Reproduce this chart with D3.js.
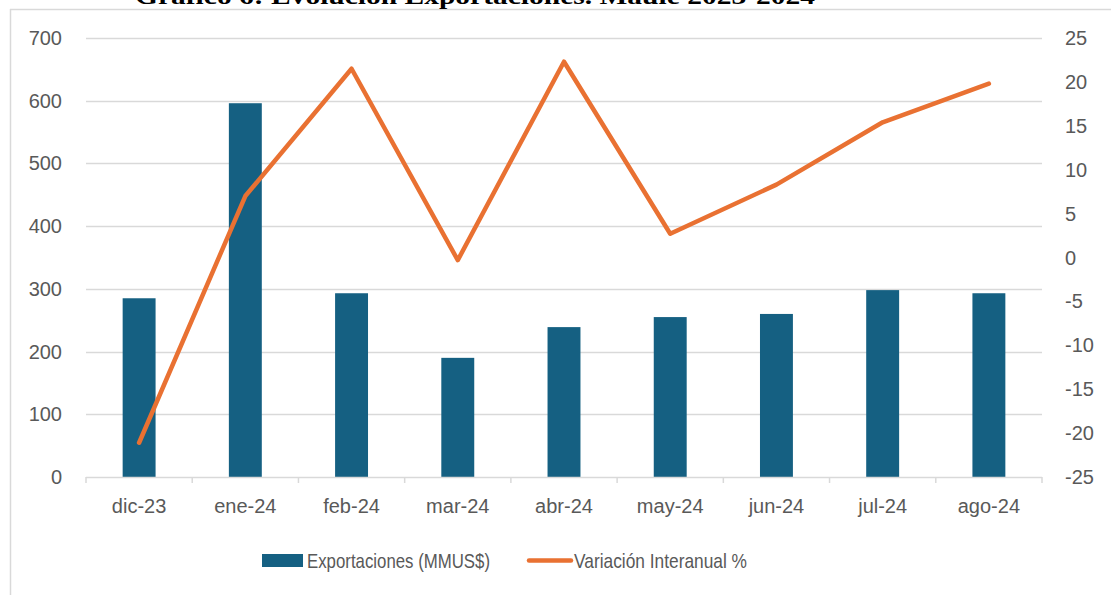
<!DOCTYPE html>
<html>
<head>
<meta charset="utf-8">
<script src="https://cdn.jsdelivr.net/npm/d3@7"></script>
<style>
  body { margin: 0; background: #fff; }
  svg { display: block; }
</style>
</head>
<body>
<div id="chart"></div>
<script>
// data
const months = ["dic-23", "ene-24", "feb-24", "mar-24", "abr-24", "may-24", "jun-24", "jul-24", "ago-24"];
const exports = [285, 596, 293, 190, 239, 255, 260, 298, 293];
const yoy = [-21.1, 7.0, 21.5, -0.3, 22.3, 2.7, 8.3, 15.4, 19.8];
const leftTicks = [0, 100, 200, 300, 400, 500, 600, 700];
const rightTicks = [-25, -20, -15, -10, -5, 0, 5, 10, 15, 20, 25];

const W = 1111, H = 595;
const plot = { left: 86, right: 1042, top: 38, bottom: 477 };
const barColor = "#156082", lineColor = "#E97132", gridColor = "#d9d9d9", textColor = "#595959";

const svg = d3.select("#chart").append("svg")
  .attr("width", W)
  .attr("height", H);

// frame of the embedded chart (only top and left edges show)
svg.append("line").attr("x1", 10).attr("x2", W).attr("y1", 9.5).attr("y2", 9.5)
  .attr("stroke", gridColor).attr("stroke-width", 1.5);
svg.append("line").attr("x1", 10.5).attr("x2", 10.5).attr("y1", 9).attr("y2", H)
  .attr("stroke", gridColor).attr("stroke-width", 1.5);

// title, clipped by the top of the page like in the source
svg.append("text")
  .attr("x", 135).attr("y", 4)
  .attr("font-family", "Liberation Serif, serif")
  .attr("font-weight", "bold")
  .attr("font-size", 24)
  .attr("textLength", 680)
  .attr("lengthAdjust", "spacingAndGlyphs")
  .attr("fill", "#000")
  .text("Gráfico 6: Evolución Exportaciones. Maule 2023-2024");

// scales
const x = d3.scaleBand().domain(months).range([plot.left, plot.right]);
const yL = d3.scaleLinear().domain([0, 700]).range([plot.bottom, plot.top]);
const yR = d3.scaleLinear().domain([-25, 25]).range([plot.bottom, plot.top]);

// gridlines
svg.append("g").selectAll("line")
  .data(leftTicks.filter(d => d > 0))
  .enter().append("line")
  .attr("x1", plot.left).attr("x2", plot.right)
  .attr("y1", d => Math.round(yL(d)) + 0.5).attr("y2", d => Math.round(yL(d)) + 0.5)
  .attr("stroke", gridColor).attr("stroke-width", 1.5);

// bars
const barW = x.bandwidth() * 0.31;
svg.append("g").selectAll("rect")
  .data(exports)
  .enter().append("rect")
  .attr("x", (d, i) => x(months[i]) + x.bandwidth() / 2 - barW / 2)
  .attr("y", d => yL(d))
  .attr("width", barW)
  .attr("height", d => yL(0) - yL(d))
  .attr("fill", barColor);

// x axis
const gx = svg.append("g")
  .attr("transform", `translate(0, ${plot.bottom})`);
gx.append("line").attr("x1", plot.left).attr("x2", plot.right).attr("y1", 0.5).attr("y2", 0.5)
  .attr("stroke", gridColor).attr("stroke-width", 1.5);
gx.selectAll(".tk")
  .data(d3.range(months.length + 1))
  .enter().append("line")
  .attr("x1", i => plot.left + i * x.step())
  .attr("x2", i => plot.left + i * x.step())
  .attr("y1", 0).attr("y2", 6)
  .attr("stroke", gridColor).attr("stroke-width", 1.5);
gx.selectAll("text")
  .data(months)
  .enter().append("text")
  .attr("x", d => x(d) + x.bandwidth() / 2)
  .attr("y", 36)
  .attr("text-anchor", "middle")
  .attr("font-family", "Liberation Sans, Arial, sans-serif")
  .attr("font-size", 20)
  .attr("fill", textColor)
  .text(d => d);

// left axis labels
svg.append("g").selectAll("text")
  .data(leftTicks)
  .enter().append("text")
  .attr("x", 62)
  .attr("y", d => yL(d))
  .attr("dy", "0.35em")
  .attr("text-anchor", "end")
  .attr("font-family", "Liberation Sans, Arial, sans-serif")
  .attr("font-size", 20)
  .attr("fill", textColor)
  .text(d => d);

// right axis labels
svg.append("g").selectAll("text")
  .data(rightTicks)
  .enter().append("text")
  .attr("x", 1065)
  .attr("y", d => yR(d))
  .attr("dy", "0.35em")
  .attr("text-anchor", "start")
  .attr("font-family", "Liberation Sans, Arial, sans-serif")
  .attr("font-size", 20)
  .attr("fill", textColor)
  .text(d => d);

// line
const line = d3.line()
  .x((d, i) => x(months[i]) + x.bandwidth() / 2)
  .y(d => yR(d));
svg.append("path")
  .datum(yoy)
  .attr("d", line)
  .attr("fill", "none")
  .attr("stroke", lineColor)
  .attr("stroke-width", 4.5)
  .attr("stroke-linecap", "round")
  .attr("stroke-linejoin", "round");

// legend (condensed face in the source, squeezed to its width here)
const lg = svg.append("g");
lg.append("rect").attr("x", 262).attr("y", 554).attr("width", 41).attr("height", 13).attr("fill", barColor);
lg.append("text").attr("x", 307).attr("y", 568)
  .attr("font-family", "Liberation Sans, Arial, sans-serif")
  .attr("font-size", 21).attr("fill", textColor)
  .attr("textLength", 183).attr("lengthAdjust", "spacingAndGlyphs")
  .text("Exportaciones (MMUS$)");
lg.append("line").attr("x1", 529).attr("x2", 571).attr("y1", 560.5).attr("y2", 560.5)
  .attr("stroke", lineColor).attr("stroke-width", 4.5).attr("stroke-linecap", "round");
lg.append("text").attr("x", 574).attr("y", 568)
  .attr("font-family", "Liberation Sans, Arial, sans-serif")
  .attr("font-size", 21).attr("fill", textColor)
  .attr("textLength", 173).attr("lengthAdjust", "spacingAndGlyphs")
  .text("Variación Interanual %");
</script>
</body>
</html>
